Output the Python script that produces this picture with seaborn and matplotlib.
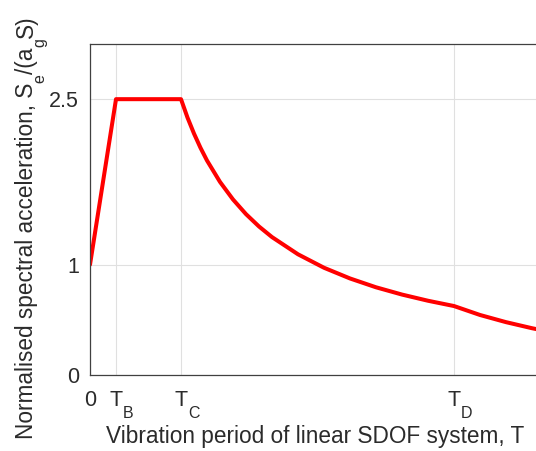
import matplotlib
matplotlib.use("Agg")
import matplotlib.pyplot as plt
import matplotlib.transforms as mtransforms
import seaborn as sns
import pandas as pd

# Corner periods (ticks)
tick_pos = [0.0, 0.10, 0.35, 1.40]
tick_main = ["0", "T", "T", "T"]
tick_sub = ["", "B", "C", "D"]
ytick_pos = [0, 1, 2.5]
ytick_labels = ["0", "1", "2.5"]

# Spectrum values
period = [0.0, 0.10, 0.35, 0.375, 0.40, 0.425, 0.45, 0.50, 0.55, 0.60, 0.65, 0.70,
          0.80, 0.90, 1.00, 1.10, 1.20, 1.30, 1.40, 1.50, 1.60, 1.70, 1.76]
spectral = [1.0, 2.5, 2.5, 2.333, 2.188, 2.059, 1.944, 1.75, 1.591, 1.458, 1.346, 1.25,
            1.094, 0.972, 0.875, 0.795, 0.729, 0.673, 0.625, 0.544, 0.479, 0.424, 0.395]

xlabel_text = "Vibration period of linear SDOF system, T"
ylabel_pieces = [("Normalised spectral acceleration, S", False), ("e", True),
                 ("/(a", False), ("g", True), ("S)", False)]

df = pd.DataFrame({"T": period, "S": spectral})

sns.set_style("white")
plt.rcParams["font.family"] = ["Liberation Sans", "DejaVu Sans"]

W, H = 536, 451
FS = 15.5
LFS = 16.3
SUBFS = 11.5
TXT = "#2b2b2b"

fig = plt.figure(figsize=(W / 100, H / 100), dpi=100)
ax = fig.add_axes([90 / W, 76 / H, (546 - 90) / W, (375 - 44) / H])

sns.lineplot(data=df, x="T", y="S", ax=ax, color="#ff0000", linewidth=2.9)

ax.set_xlim(0, 456 / 260)
ax.set_ylim(0, 3)
ax.set_xticks(tick_pos)
ax.set_xticklabels(tick_main)
ax.set_yticks(ytick_pos)
ax.set_yticklabels(ytick_labels)
ax.grid(True, color="#e0e0e0", linewidth=0.8)
ax.set_axisbelow(True)
for s in ax.spines.values():
    s.set_color("#404040")
    s.set_linewidth(0.9)
ax.tick_params(direction="in", length=3.5, width=0.8, colors="#404040",
               labelsize=FS, labelcolor=TXT)
ax.tick_params(axis="x", pad=11)
ax.tick_params(axis="y", pad=8)
ax.set_xlabel("")
ax.set_ylabel("")

# subscripts of tick labels (MATLAB-like placement)
trans = mtransforms.blended_transform_factory(ax.transData, ax.transAxes)
for xp, sub in zip(tick_pos, tick_sub):
    if sub:
        ax.annotate(sub, xy=(xp, 0), xycoords=trans, xytext=(7, -43),
                    textcoords="offset pixels", ha="left", va="baseline",
                    fontsize=SUBFS, color=TXT, annotation_clip=False)

# x label
fig.text((107 + 524) / 2 / W, (451 - 443) / H, xlabel_text, ha="center", va="baseline",
         fontsize=LFS, color=TXT)

# y label built from pieces with lowered subscripts
fig.canvas.draw()
renderer = fig.canvas.get_renderer()
x0 = 33.0
y = 451 - 439.0
for txt, sub in ylabel_pieces:
    fs = SUBFS if sub else LFS
    xx = x0 + (11 if sub else 0)
    t = fig.text(xx / W, y / H, txt, rotation=90, rotation_mode="anchor",
                 ha="left", va="baseline", fontsize=fs, color=TXT)
    bb = t.get_window_extent(renderer)
    y += bb.height

fig.savefig("out.png", dpi=100)
